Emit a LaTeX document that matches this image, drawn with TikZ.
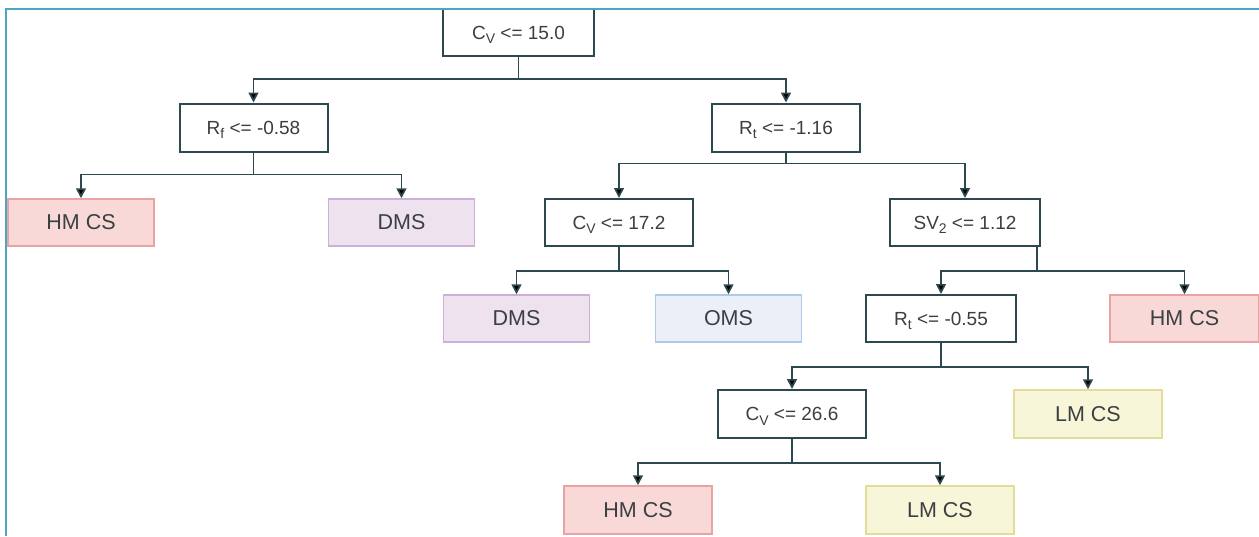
\documentclass[tikz,border=0pt]{standalone}
\usepackage{fontspec}
\setmainfont{Liberation Sans}
\usetikzlibrary{arrows.meta,calc}
\definecolor{framec}{HTML}{4AA6C4}
\definecolor{linec}{HTML}{2E4850}
\definecolor{hmfill}{HTML}{F9D9D8}
\definecolor{hmdraw}{HTML}{E8A4A2}
\definecolor{dmfill}{HTML}{EEE2EF}
\definecolor{dmdraw}{HTML}{CDB0DA}
\definecolor{omfill}{HTML}{EAEFF8}
\definecolor{omdraw}{HTML}{AFC9E8}
\definecolor{lmfill}{HTML}{F8F6D8}
\definecolor{lmdraw}{HTML}{E2DE98}
\definecolor{txtc}{HTML}{3A3F42}
\newcommand{\lowsub}[1]{\raisebox{-0.45ex}[0pt][0pt]{\fontsize{14}{14}\selectfont #1}}
\tikzset{
  decision/.style={draw=linec, line width=2pt, fill=white, minimum width=148pt, minimum height=48pt, inner sep=0pt, font=\fontsize{19}{22}\selectfont, text=txtc},
  leaf/.style={line width=1.5pt, minimum width=146pt, minimum height=47pt, inner sep=0pt, font=\fontsize{21.5}{25}\selectfont, text=txtc},
  hm/.style={leaf, draw=hmdraw, fill=hmfill},
  dm/.style={leaf, draw=dmdraw, fill=dmfill},
  om/.style={leaf, draw=omdraw, fill=omfill},
  lm/.style={leaf, draw=lmdraw, fill=lmfill},
  conn/.style={draw=linec, line width=1.7pt, -{Triangle[width=10pt,length=10pt,fill=black]}}
}
\begin{document}
\begin{tikzpicture}[x=1pt,y=-1pt]
\useasboundingbox (0,0) rectangle (1259,536);
% nodes
\node[decision, minimum width=151pt, minimum height=47pt] (root) at (518.5,32.5) {C\lowsub{V} <= 15.0};
\node[decision] (rf) at (253.5,127.5) {R\lowsub{f} <= -0.58};
\node[decision] (rt1) at (786,127.5) {R\lowsub{t} <= -1.16};
\node[hm] (hm1) at (81,222.5) {HM CS};
\node[dm] (dm1) at (401.5,222.5) {DMS};
\node[decision, minimum height=47pt] (cv2) at (619,222.5) {C\lowsub{V} <= 17.2};
\node[decision, minimum width=150pt, minimum height=47pt] (sv) at (965,222.5) {SV\lowsub{2} <= 1.12};
\node[dm] (dm2) at (516.5,318.5) {DMS};
\node[om] (om) at (728.5,318.5) {OMS};
\node[decision, minimum width=150pt, minimum height=47pt] (rt2) at (941,318.5) {R\lowsub{t} <= -0.55};
\node[hm, minimum width=149pt] (hm2) at (1184.5,318.5) {HM CS};
\node[decision, minimum height=48pt] (cv3) at (792,414) {C\lowsub{V} <= 26.6};
\node[lm, minimum width=148pt, minimum height=48pt] (lm1) at (1088,414) {LM CS};
\node[hm, minimum width=148pt, minimum height=48pt] (hm3) at (638,510) {HM CS};
\node[lm, minimum width=148pt, minimum height=48pt] (lm2) at (940,510) {LM CS};
% connectors
\draw[conn] (root.south) -- ++(0,22) -| (rf.north);
\draw[conn] (root.south) -- ++(0,22) -| (rt1.north);
\draw[conn] (rf.south) -- ++(0,22) -| (hm1.north);
\draw[conn] (rf.south) -- ++(0,22) -| (dm1.north);
\draw[conn] (rt1.south) -- ++(0,11) -| (cv2.north);
\draw[conn] (rt1.south) -- ++(0,11) -| (sv.north);
\draw[conn] (cv2.south) -- ++(0,24) -| (dm2.north);
\draw[conn] (cv2.south) -- ++(0,24) -| (om.north);
\coordinate (svout) at ($(sv.south east)+(-4,0)$);
\draw[conn] (svout) -- ++(0,24) -| (rt2.north);
\draw[conn] (svout) -- ++(0,24) -| (hm2.north);
\draw[conn] (rt2.south) -- ++(0,24) -| (cv3.north);
\draw[conn] (rt2.south) -- ++(0,24) -| (lm1.north);
\draw[conn] (cv3.south) -- ++(0,24) -| (hm3.north);
\draw[conn] (cv3.south) -- ++(0,24) -| (lm2.north);
% frame
\coordinate (ftl) at (6,9);
\draw[framec, line width=2pt] (1259,9) -- (ftl) -- (6,536);
\end{tikzpicture}
\end{document}
